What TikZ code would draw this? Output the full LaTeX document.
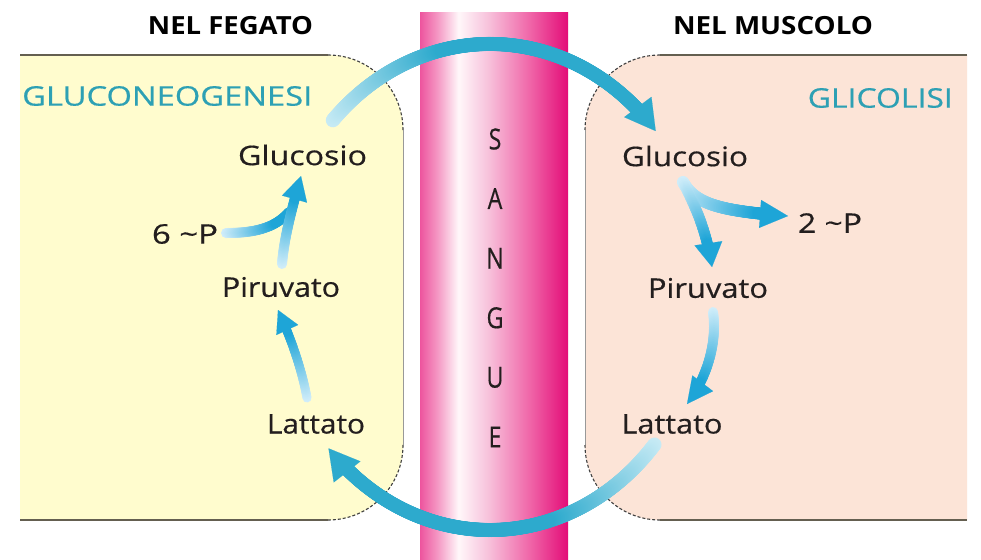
\documentclass[tikz,border=0pt]{standalone}
\usepackage{fontspec}
\setmainfont{Open Sans}
\newfontfamily\lblfont[FakeBold=0.5]{Open Sans}
\usetikzlibrary{arrows.meta,decorations.markings}
\definecolor{yellowbox}{RGB}{255,252,206}
\definecolor{peachbox}{RGB}{252,228,215}
\definecolor{arcdark}{RGB}{45,170,205}
\definecolor{arclight}{RGB}{200,235,245}
\definecolor{indark}{RGB}{30,165,215}
\definecolor{inlight}{RGB}{210,238,250}
\definecolor{tealtxt}{RGB}{45,160,180}
\definecolor{txt}{RGB}{35,30,30}
\definecolor{edge}{RGB}{100,95,80}
\pgfdeclarehorizontalshading{vessel}{100bp}{rgb(0bp)=(0.93,0.33,0.62); rgb(25bp)=(0.93,0.33,0.62); rgb(31bp)=(0.96,0.6,0.77); rgb(38bp)=(1,0.97,0.98); rgb(48bp)=(0.97,0.76,0.86); rgb(62bp)=(0.94,0.4,0.66); rgb(75bp)=(0.89,0.05,0.47); rgb(100bp)=(0.89,0.05,0.47)}
\newcommand{\fitw}[2]{\resizebox{#1}{\height}{#2}}
\tikzset{
  gw/.store in=\gw, gspan/.store in=\gspan, gstop/.store in=\gstop,
  gw=5pt, gspan=1, gstop=1,
  gcol/.code 2 args={\colorlet{gdark}{#1}\colorlet{glight}{#2}},
  gradstroke/.style={postaction={decorate,decoration={markings,
      mark=between positions 0 and \gstop step 0.7pt with {%
        \pgfmathsetmacro\gfrac{100*min(1,\pgfkeysvalueof{/pgf/decoration/mark info/distance from start}/(\pgfdecoratedpathlength*\gspan))}%
        \fill[gdark!\gfrac!glight] (0,0) circle[radius=\gw];}}}},
  bigarrow/.style={gcol={arcdark}{arclight}, draw=gdark, line width=0.1pt, -{Triangle[width=34pt,length=30pt]}, gw=7pt, gspan=0.35, gstop=-26pt, gradstroke},
  smallarrow/.style={gcol={indark}{inlight}, draw=gdark, line width=0.1pt, gw=5pt, gspan=0.75, gradstroke},
  lbl/.style={inner sep=0pt, text=txt, font=\lblfont\fontsize{27}{30}\selectfont},
  ttl/.style={inner sep=0pt, text=black, font=\bfseries\fontsize{25}{28}\selectfont},
  phase/.style={inner sep=0pt, text=tealtxt, font=\lblfont\fontsize{27}{30}\selectfont},
  blood/.style={inner sep=0pt, text=txt, font=\lblfont\fontsize{29}{30}\selectfont},
  boxline/.style={draw=edge, line width=1.4pt},
  sideline/.style={draw=black!40, line width=0.8pt},
  boxcorner/.style={draw=black!75, line width=1.1pt, dash pattern=on 3pt off 2pt},
}
\begin{document}
\begin{tikzpicture}[x=1pt,y=-1pt]
\useasboundingbox (0,0) rectangle (981,559);
\fill[white] (0,0) rectangle (981,559);
% left box (liver)
\fill[yellowbox] (20,55) -- (328,55) arc[start angle=-90,end angle=0,radius=75] -- (403,445) arc[start angle=0,end angle=90,radius=75] -- (20,520) -- cycle;
\draw[boxline] (20,55) -- (328,55);
\draw[boxcorner] (328,55) arc[start angle=-90,end angle=0,radius=75];
\draw[sideline] (403,130) -- (403,445);
\draw[boxcorner] (403,445) arc[start angle=0,end angle=90,radius=75];
\draw[boxline] (328,520) -- (20,520);
% right box (muscle)
\fill[peachbox] (967,55) -- (660,55) arc[start angle=-90,end angle=-180,radius=75] -- (585,445) arc[start angle=180,end angle=90,radius=75] -- (967,520) -- cycle;
\draw[boxline] (967,55) -- (660,55);
\draw[boxcorner] (660,55) arc[start angle=-90,end angle=-180,radius=75];
\draw[sideline] (585,130) -- (585,445);
\draw[boxcorner] (585,445) arc[start angle=180,end angle=90,radius=75];
\draw[boxline] (660,520) -- (967,520);
% blood vessel
\shade[shading=vessel] (420,13) rectangle (568,559);
\foreach \ch [count=\i] in {S,A,N,G,U,E}
  \node[blood] (s\i) at (495,{139+59.6*(\i-1)}) {\scalebox{0.8}[1]{\ch}};
% texts
\node[ttl] (tl) at (230.5,26) {\fitw{165pt}{NEL FEGATO}};
\node[ttl] (tr) at (773,26) {\fitw{200pt}{NEL MUSCOLO}};
\node[phase, anchor=west] (gng) at (22,96) {\fitw{290pt}{GLUCONEOGENESI}};
\node[phase, anchor=east] (glc) at (953,98) {\fitw{145pt}{GLICOLISI}};
\node[lbl] (gluL) at (302.5,155) {\fitw{129pt}{Glucosio}};
\node[lbl] (gluR) at (685,156) {\fitw{126pt}{Glucosio}};
\node[lbl] (p6) at (185,234) {\fitw{66pt}{6 \textasciitilde P}};
\node[lbl] (p2) at (830,223) {\fitw{64pt}{2 \textasciitilde P}};
\node[lbl] (piL) at (281,287) {\fitw{118pt}{Piruvato}};
\node[lbl] (piR) at (708,288) {\fitw{120pt}{Piruvato}};
\node[lbl] (laL) at (316,424) {\fitw{98pt}{Lattato}};
\node[lbl] (laR) at (672,424) {\fitw{101pt}{Lattato}};
% big cycle arrows
\coordinate (tA) at (332.8,120.3);
\coordinate (bA) at (654.5,444.5);
\draw[bigarrow] (tA) arc[start angle=-136.7, end angle=-39.9, x radius=216, y radius=243];
\draw[bigarrow] (bA) arc[start angle=40.4, end angle=138.4, x radius=216, y radius=243];
% inner arrows, liver
\coordinate (a1s) at (307,398);
\coordinate (a1e) at (278,310);
\coordinate (a2s) at (282,264);
\coordinate (a2e) at (301,176);
\coordinate (p6s) at (226,233);
\coordinate (a2j) at (289,212);
\draw[smallarrow, -{Triangle[width=24pt,length=22pt]}, gstop=-20pt, gw=4.5pt] (a1s) .. controls (302,370) and (291,338) .. (a1e);
\draw[smallarrow, gstop=1, gw=5pt] (p6s) .. controls (255,233) and (275,228) .. (a2j);
\draw[smallarrow, -{Triangle[width=26pt,length=24pt]}, gstop=-22pt, gw=5pt] (a2s) .. controls (284,240) and (290,215) .. (a2e);
% inner arrows, muscle
\coordinate (b0) at (683,182);
\coordinate (b1e) at (788,216);
\coordinate (b2e) at (712,267);
\coordinate (b3s) at (713,312);
\coordinate (b3e) at (687,404);
\draw[smallarrow, -{Triangle[width=28pt,length=28pt]}, gstop=-26pt, gw=6pt] (b0) .. controls (695,204) and (720,211) .. (b1e);
\draw[smallarrow, -{Triangle[width=28pt,length=24pt]}, gstop=-22pt, gw=5.5pt] (b0) .. controls (694,204) and (706,228) .. (b2e);
\draw[smallarrow, -{Triangle[width=26pt,length=26pt]}, gstop=-24pt, gw=5pt] (b3s) .. controls (717,340) and (709,375) .. (b3e);
\end{tikzpicture}
\end{document}
